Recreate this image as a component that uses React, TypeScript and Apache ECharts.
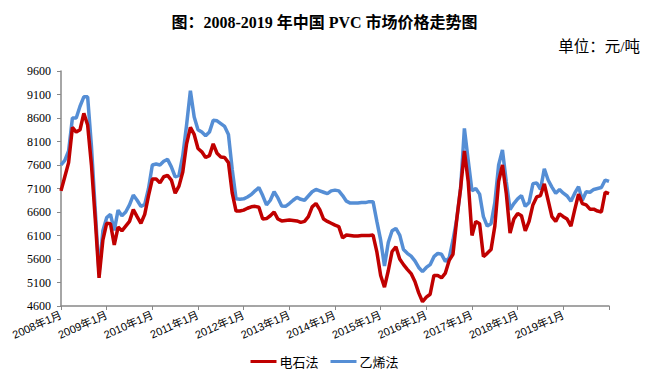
import React, { useEffect, useRef } from "react";
import * as echarts from "echarts";

// Monthly categories 2008年1月 … 2020年1月
const months: string[] = [];
for (let y = 2008; y <= 2020; y++) {
  for (let m = 1; m <= 12; m++) {
    if (y === 2020 && m > 1) break;
    months.push(`${y}年${m}月`);
  }
}

const yTicks = [4600, 5100, 5600, 6100, 6600, 7100, 7600, 8100, 8600, 9100, 9600];

// 电石法 (calcium carbide process), 元/吨
const carbide = [
  7050, 7350, 7650, 8400, 8300, 8350, 8700, 8450, 7600, 6450, 5200, 6000,
  6360, 6350, 5900, 6280, 6200, 6300, 6400, 6650, 6500, 6360, 6550, 6950,
  7300, 7300, 7220, 7350, 7380, 7280, 7000, 7150, 7450, 8050, 8400, 8250,
  7950, 7880, 7760, 7800, 8050, 7850, 7770, 7760, 7650, 7000, 6620, 6620,
  6640, 6680, 6710, 6720, 6700, 6450, 6460, 6520, 6600, 6450, 6410, 6420,
  6430, 6420, 6410, 6380, 6400, 6500, 6710, 6780, 6650, 6450, 6400, 6360,
  6320, 6290, 6050, 6110, 6100, 6090, 6090, 6100, 6100, 6100, 6110, 5750,
  5250, 5000, 5350, 5760, 5860, 5600, 5480, 5380, 5290, 5120, 4880, 4690,
  4790, 4850, 5250, 5250, 5200, 5300, 5570, 5700, 6450, 7100, 7900, 7250,
  6100, 6400, 6350, 5650, 5720, 5800, 6300, 7250, 7600, 7000, 6150, 6450,
  6570, 6520, 6200, 6400, 6750, 6920, 6950, 7200, 6850, 6500, 6400, 6560,
  6500, 6450, 6300, 6650, 6980, 6780, 6750, 6660, 6660, 6620, 6600, 7020,
  6990,
];

// 乙烯法 (ethylene process), 元/吨
const ethylene = [
  7600, 7700, 7900, 8600, 8600, 8850, 9050, 9050, 8000, 6640, 5300, 6200,
  6480, 6550, 6210, 6640, 6520, 6600, 6750, 6960, 6850, 6720, 6760, 7100,
  7600, 7620, 7600, 7680, 7720, 7560, 7350, 7380, 7800, 8450, 9180, 8620,
  8350, 8300, 8220, 8300, 8550, 8540, 8480, 8420, 8250, 7500, 6880, 6870,
  6880, 6920, 6970, 7050, 7120, 6950, 6750, 6850, 7030, 6900, 6730, 6720,
  6780, 6850, 6910, 6870, 6850, 6940, 7030, 7080, 7050, 7020, 6990, 7050,
  7065, 7050, 6950, 6830, 6790, 6790, 6790, 6800, 6800, 6820, 6820, 6400,
  6000, 5450, 5950, 6200, 6250, 6110, 5800, 5720, 5660, 5560, 5420, 5330,
  5420, 5480, 5650, 5720, 5700, 5550, 5620, 6000, 6450, 7100, 8380, 7700,
  7050, 7100, 6980, 6500, 6300, 6350, 6800, 7600, 7920, 7250, 6650, 6780,
  6880, 6950, 6720, 6800, 7200, 7220, 7080, 7520, 7280, 7130, 7000, 7080,
  7000, 6940, 6830, 7000, 7140, 6850, 7030, 7020, 7080, 7100, 7120, 7280,
  7250,
];

const titleText = "图：2008-2019 年中国 PVC 市场价格走势图";
const unitText = "单位：元/吨";
const seriesNames = ["电石法", "乙烯法"];

export default function App() {
  const ref = useRef<HTMLDivElement>(null);
  useEffect(() => {
    document.body.style.margin = "0";
    if (!ref.current) return;
    const chart = echarts.init(ref.current, null, { renderer: "svg" });
    const serif = "'Times New Roman', 'Liberation Serif', 'Noto Sans CJK SC', serif";
    chart.setOption({
      animation: false,
      backgroundColor: "#ffffff",
      title: {
        text: titleText,
        left: "center",
        top: 9,
        textStyle: { fontFamily: serif, fontWeight: "bold", fontSize: 16, color: "#000" },
      },
      graphic: [
        {
          type: "text",
          right: 9,
          top: 39,
          style: { text: unitText, fontFamily: serif, fontSize: 15.5, fill: "#000" },
        },
      ],
      legend: {
        data: seriesNames,
        bottom: 8,
        left: "center",
        icon: "rect",
        itemWidth: 26,
        itemHeight: 3,
        itemGap: 12,
        textStyle: { fontSize: 13, color: "#000", fontFamily: "'Noto Sans CJK SC', sans-serif", padding: [0, 0, 0, -2] },
      },
      grid: { left: 61, right: 40, top: 71, bottom: 75 },
      xAxis: {
        type: "category",
        data: months,
        boundaryGap: false,
        axisLine: { lineStyle: { color: "#888", width: 1.5 } },
        axisTick: { interval: 11, length: 4, lineStyle: { color: "#888" } },
        axisLabel: {
          interval: (i: number) => i % 12 === 0 && i < months.length - 1,
          rotate: 24,
          margin: 8,
          fontSize: 11,
          color: "#000",
          fontFamily: "'Liberation Sans', 'Noto Sans CJK SC', sans-serif",
        },
        splitLine: { show: false },
      },
      yAxis: {
        type: "value",
        min: yTicks[0],
        max: yTicks[yTicks.length - 1],
        interval: 500,
        axisLine: { show: true, lineStyle: { color: "#888", width: 1.5 } },
        axisTick: { show: true, length: 4, lineStyle: { color: "#888" } },
        axisLabel: {
          fontSize: 12,
          color: "#000",
          fontFamily: serif,
          margin: 10,
          formatter: (v: number) => String(v),
        },
        splitLine: { show: false },
      },
      series: [
        {
          name: seriesNames[1],
          type: "line",
          data: ethylene,
          showSymbol: false,
          symbol: "none",
          lineStyle: { color: "#558ED5", width: 3.5 },
          itemStyle: { color: "#558ED5" },
          z: 2,
        },
        {
          name: seriesNames[0],
          type: "line",
          data: carbide,
          showSymbol: false,
          symbol: "none",
          lineStyle: { color: "#C00000", width: 3.5 },
          itemStyle: { color: "#C00000" },
          z: 3,
        },
      ],
    });
    return () => chart.dispose();
  }, []);
  return <div ref={ref} style={{ width: 649, height: 381 }} />;
}
